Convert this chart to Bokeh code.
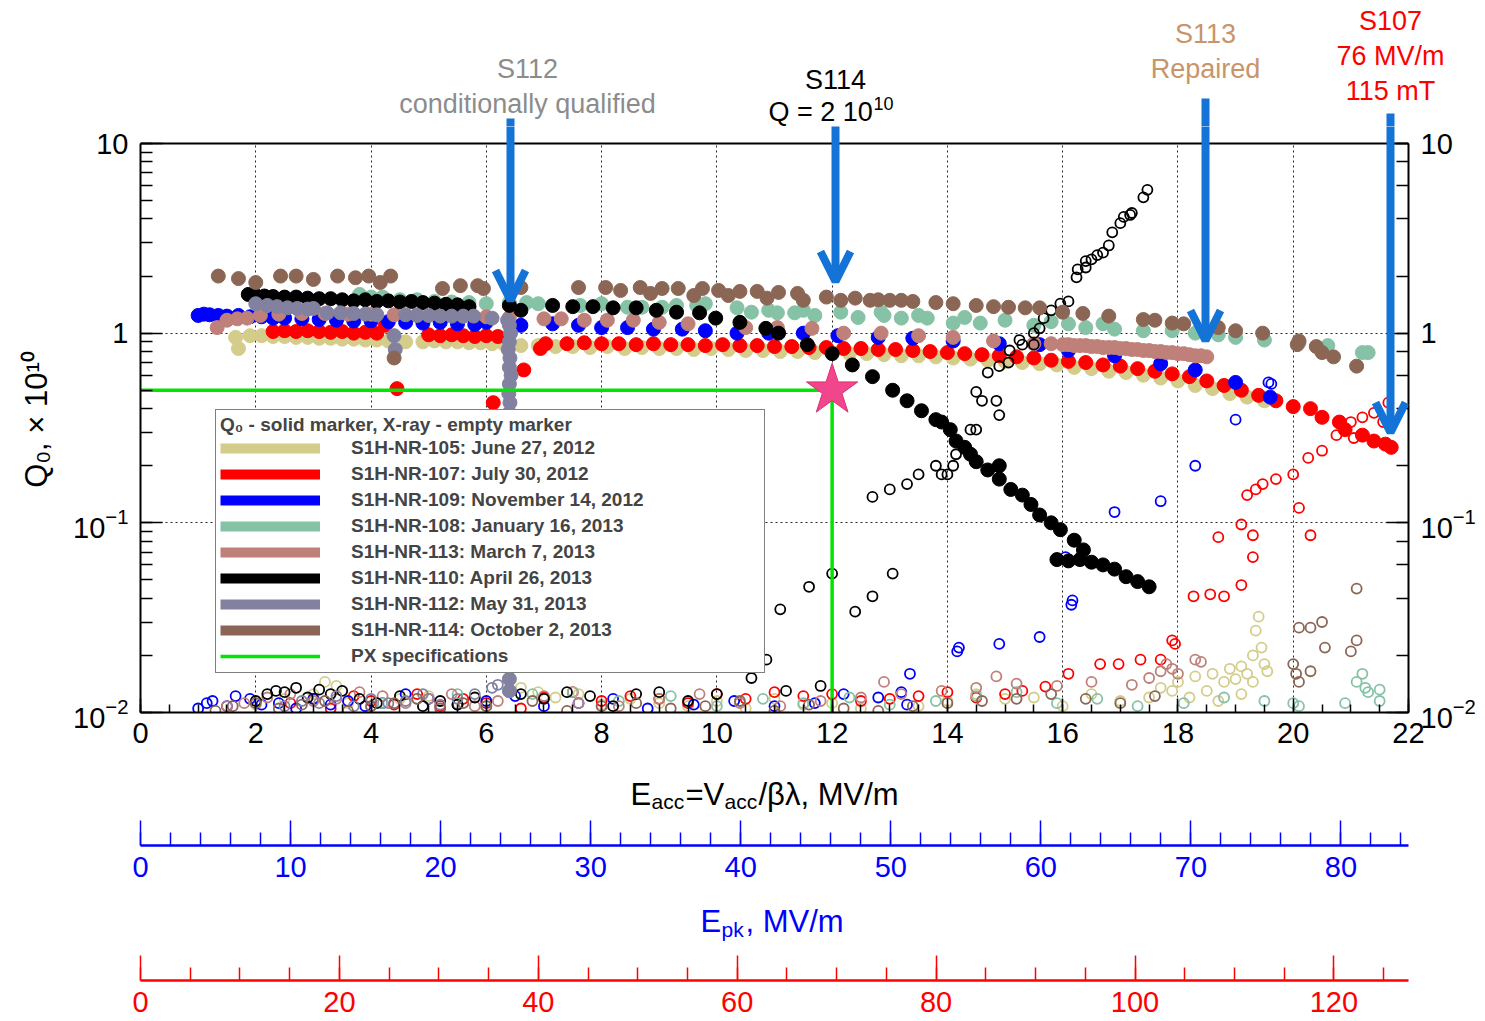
from bokeh.plotting import figure
from bokeh.models import (Range1d, LogAxis, SingleIntervalTicker, Label, Legend, LegendItem,
                          Arrow, OpenHead, LogTickFormatter, Span)
from bokeh.layouts import column
from bokeh.embed import file_html
from bokeh.resources import INLINE

FONT = "Liberation Sans"

# ---------------- data ----------------
# S1H-NR-105 (June 27, 2012)
q105_x = [1.65, 1.7, 1.9, 2.1, 2.3, 2.5, 2.7, 2.9, 3.1, 3.3, 3.5, 3.7, 3.9, 4.1, 4.3, 4.6, 4.9, 5.1, 5.3, 5.5,
          5.7, 5.9, 6.1, 6.3, 6.6, 6.9, 7.2, 7.5, 7.8, 8.1, 8.4, 8.7, 9.0, 9.3, 9.6, 9.9, 10.2, 10.5, 10.8,
          11.1, 11.4, 11.7, 12.0, 12.3, 12.6, 12.9, 13.2, 13.5, 13.8, 14.1, 14.4, 14.7, 15.0, 15.3, 15.6,
          15.9, 16.2, 16.5, 16.8, 17.1, 17.4, 17.7, 18.0, 18.3, 18.6, 18.9, 19.2, 19.5]
q105_y = [0.95, 0.83, 0.97, 0.97, 0.96, 0.96, 0.95, 0.95, 0.94, 0.94, 0.93, 0.93, 0.92, 0.92, 0.91, 0.9, 0.9,
          0.91, 0.9, 0.9, 0.89, 0.89, 0.88, 0.88, 0.86, 0.86, 0.85, 0.85, 0.84, 0.85, 0.83, 0.84, 0.83, 0.83,
          0.82, 0.83, 0.82, 0.81, 0.81, 0.8, 0.8, 0.79, 0.79, 0.78, 0.78, 0.77, 0.76, 0.76, 0.75, 0.74, 0.73,
          0.72, 0.71, 0.7, 0.69, 0.68, 0.66, 0.65, 0.63, 0.62, 0.6, 0.58, 0.56, 0.53, 0.51, 0.48, 0.46, 0.44]
xr105_x = [2.0, 2.5, 3.0, 3.2, 3.4, 3.6, 4.0, 4.5, 5.0, 5.5, 6.0, 6.6, 6.9, 7.2, 7.6, 8.0, 8.5, 9.0, 9.5,
           10.0, 10.5, 11.0, 11.5, 12.0, 12.5, 13.0, 13.5, 14.0, 14.5, 15.0, 15.5, 16.0, 16.5, 17.0,
           17.5, 17.7, 17.9, 18.0, 18.2, 18.3, 18.5, 18.6, 18.8, 18.9, 19.0, 19.1, 19.2, 19.3, 19.35,
           19.4, 19.45, 19.5, 19.55, 18.7, 19.1, 19.3]
xr105_y = [0.011, 0.0118, 0.0125, 0.0145, 0.0138, 0.0112, 0.0108, 0.0118, 0.0122, 0.0112, 0.0108, 0.0135,
           0.0128, 0.012, 0.0125, 0.011, 0.0118, 0.0112, 0.0108, 0.0115, 0.0105, 0.0118, 0.011, 0.0112,
           0.0105, 0.0118, 0.0108, 0.0115, 0.0125, 0.0118, 0.012, 0.0108, 0.0125, 0.0115,
           0.012, 0.0135, 0.013, 0.0145, 0.012, 0.0155, 0.013, 0.016, 0.0145, 0.017, 0.015, 0.0175, 0.016,
           0.02, 0.027, 0.032, 0.022, 0.018, 0.0165, 0.0115, 0.0125, 0.0145]

# S1H-NR-107 (July 30, 2012)
q107_x = [2.3, 2.5, 2.7, 2.9, 3.1, 3.3, 3.5, 3.7, 3.9, 4.1, 4.25, 4.45, 5.0, 5.2, 5.4, 5.6, 5.8, 6.0, 6.2,
          6.12, 6.65, 6.94, 7.03, 7.4, 7.7, 8.0, 8.3, 8.6, 8.9, 9.2, 9.5, 9.8, 10.1, 10.4, 10.7, 11.0, 11.3,
          11.6, 11.9, 12.2, 12.5, 12.8, 13.1, 13.4, 13.7, 14.0, 14.3, 14.6, 14.9, 15.2, 15.5, 15.8, 16.1,
          16.4, 16.7, 17.0, 17.3, 17.6, 17.9, 18.2, 18.5, 18.8, 19.1, 19.4, 19.7, 20.0, 20.3, 20.5, 20.8,
          20.9, 21.2, 21.4, 21.6, 21.7]
q107_y = [1.02, 1.03, 1.02, 1.03, 1.02, 1.01, 1.02, 1.0, 1.01, 1.0, 1.1, 0.51, 0.98, 0.97, 0.98, 0.97, 0.96,
          0.97, 0.96, 0.43, 0.64, 0.83, 0.88, 0.88, 0.89, 0.88, 0.88, 0.87, 0.88, 0.87, 0.87, 0.86, 0.87,
          0.86, 0.86, 0.85, 0.85, 0.84, 0.84, 0.83, 0.83, 0.82, 0.82, 0.81, 0.8, 0.79, 0.78, 0.77, 0.76,
          0.75, 0.74, 0.72, 0.71, 0.7, 0.68, 0.67, 0.65, 0.63, 0.61, 0.59, 0.56, 0.53, 0.5, 0.47, 0.44, 0.41,
          0.4, 0.36, 0.34, 0.31, 0.29, 0.27, 0.26, 0.25]
xr107_x = [2.6, 3.0, 3.3, 3.7, 4.0, 4.4, 4.8, 5.2, 5.6, 6.0, 6.6, 7.0, 7.5, 8.0, 8.5, 9.0, 9.5, 10.0, 10.5,
           11.0, 11.5, 12.0, 12.5, 13.0, 13.5, 14.0, 14.5, 15.0, 15.3,
           15.7, 16.1, 16.65, 16.97, 17.35, 17.7, 17.9, 17.95, 18.27, 18.56, 18.8, 19.1, 18.7, 19.1, 19.3,
           19.3, 19.2, 19.35, 19.47, 19.7, 20.0, 20.1, 20.3, 20.26, 20.5, 20.75, 21.0, 21.05, 21.2, 21.4,
           21.56, 21.65]
xr107_y = [0.0112, 0.0118, 0.0105, 0.0122, 0.0115, 0.011, 0.0125, 0.0108, 0.0118, 0.0112, 0.0105, 0.012,
           0.0128, 0.0115, 0.0122, 0.0118, 0.0112, 0.0125, 0.0118, 0.0128, 0.0122, 0.0125, 0.0115, 0.0118,
           0.0122, 0.0128, 0.012, 0.0125, 0.013,
           0.0137, 0.016, 0.018, 0.018, 0.019, 0.019, 0.024, 0.023, 0.041, 0.042, 0.041, 0.047, 0.084, 0.098,
           0.066, 0.086, 0.14, 0.15, 0.16, 0.17, 0.18, 0.12, 0.086, 0.22, 0.24, 0.29, 0.34, 0.28, 0.36, 0.38,
           0.34, 0.43]

# S1H-NR-109 (November 14, 2012)
q109_x = [1.0, 1.1, 1.2, 1.35, 1.5, 1.7, 1.9, 2.1, 2.3, 2.5, 2.8, 3.1, 3.4, 3.7, 4.0, 4.3, 4.6, 4.9, 5.2,
          5.5, 5.8, 6.0, 6.6, 7.15, 7.6, 8.0, 8.45, 8.9, 9.4, 9.8, 10.35, 10.9, 11.5, 12.1, 12.8, 13.4, 14.1,
          14.9, 15.6, 16.1, 16.9, 17.7, 18.3, 19.0, 19.6]
q109_y = [1.24, 1.26, 1.25, 1.24, 1.23, 1.24, 1.22, 1.22, 1.2, 1.2, 1.19, 1.18, 1.17, 1.16, 1.16, 1.15, 1.14,
          1.13, 1.14, 1.12, 1.11, 1.14, 1.1, 1.12, 1.1, 1.07, 1.07, 1.05, 1.05, 1.03, 1.0, 1.0, 1.0, 0.97,
          0.95, 0.94, 0.91, 0.88, 0.87, 0.81, 0.76, 0.69, 0.64, 0.55, 0.46]
xr109_x = [1.0, 1.15, 1.25, 1.5, 1.65, 1.9, 2.1, 2.4, 2.7, 3.0, 3.3, 3.6, 3.9, 4.2, 4.6, 5.0, 5.5, 6.0, 6.5,
           7.0, 7.6, 8.2, 8.8, 9.6, 10.3, 11.0, 11.7, 12.2, 12.8, 13.2, 13.3,
           13.35, 14.17, 14.2, 14.9, 15.6, 16.15, 16.17, 16.05, 16.9, 17.7, 18.3, 19.0, 19.57, 19.62]
xr109_y = [0.0105, 0.0112, 0.0115, 0.0108, 0.0122, 0.0118, 0.011, 0.0112, 0.0105, 0.0118, 0.011, 0.0115,
           0.0108, 0.0112, 0.0125, 0.0118, 0.011, 0.0115, 0.0122, 0.0108, 0.0112, 0.0118, 0.0105, 0.011,
           0.0115, 0.0108, 0.0112, 0.0125, 0.012, 0.0128, 0.011,
           0.016, 0.021, 0.022, 0.023, 0.025, 0.037, 0.039, 0.066, 0.114, 0.13, 0.2, 0.35, 0.55, 0.54]

# S1H-NR-108 (January 16, 2013)
q108_x = [3.8, 4.0, 4.2, 4.5, 4.8, 5.1, 5.4, 5.7, 6.0, 6.4, 6.7, 6.9, 7.63, 8.0, 8.45, 8.7, 9.05, 9.3, 9.65,
          9.8, 10.35, 10.6, 10.9, 11.05, 11.35, 11.5, 11.7, 12.15, 12.45, 12.85, 12.9, 13.2, 13.5, 13.65,
          14.1, 14.3, 14.57, 15.0, 15.5, 15.8, 16.1, 16.4, 16.7, 16.9, 17.4, 17.9, 18.3, 18.7, 19.0, 19.5,
          20.1, 20.6, 21.2, 21.3]
q108_y = [1.6, 1.55, 1.55, 1.5, 1.5, 1.47, 1.46, 1.45, 1.43, 1.45, 1.45, 1.43, 1.4, 1.43, 1.37, 1.37, 1.37,
          1.4, 1.4, 1.43, 1.36, 1.29, 1.32, 1.28, 1.28, 1.32, 1.24, 1.29, 1.21, 1.29, 1.24, 1.2, 1.24, 1.2,
          1.13, 1.21, 1.13, 1.17, 1.1, 1.15, 1.12, 1.07, 1.12, 1.05, 1.03, 1.03, 1.0, 0.98, 0.95, 0.92, 0.89,
          0.86, 0.79, 0.79]
xr108_x = [4.2, 4.8, 5.5, 6.0, 6.8, 7.5, 8.3, 9.2, 10.0, 10.8, 11.5, 12.3, 13.0, 13.8, 14.5, 15.2, 15.9, 16.6,
           17.3, 18.1, 18.8, 19.5, 20.1, 20.9, 21.3, 21.5, 21.2, 21.25, 21.1, 21.5, 20.0]
xr108_y = [0.0112, 0.0118, 0.0125, 0.0108, 0.0125, 0.0128, 0.0115, 0.0122, 0.0108, 0.0118, 0.0112, 0.012,
           0.011, 0.0115, 0.0122, 0.0128, 0.0112, 0.0118, 0.0108, 0.0112, 0.012, 0.0115, 0.0108, 0.0112,
           0.0128, 0.0115, 0.016, 0.0135, 0.0145, 0.0132, 0.0112]

# S1H-NR-113 (March 7, 2013)
q113_x = [1.33, 1.5, 1.68, 1.85, 2.08, 2.4, 2.8, 3.2, 3.6, 4.0, 4.4, 4.8, 5.2, 5.6, 6.0, 6.4, 7.0, 7.3, 7.7,
          8.1, 8.55, 9.0, 9.5, 10.5, 11.05, 11.65, 12.2, 12.85, 13.5, 14.1, 14.8, 15.5, 15.8,
          16.0, 16.1, 16.2, 16.3, 16.4, 16.5, 16.6, 16.7, 16.8, 16.9, 17.0, 17.1, 17.2, 17.3, 17.4, 17.5,
          17.6, 17.7, 17.8, 17.9, 18.0, 18.1, 18.2, 18.3, 18.4, 18.5]
q113_y = [1.07, 1.17, 1.19, 1.2, 1.24, 1.26, 1.27, 1.27, 1.26, 1.26, 1.25, 1.25, 1.24, 1.23, 1.22, 1.21, 1.19,
          1.19, 1.17, 1.17, 1.17, 1.14, 1.12, 1.07, 1.07, 1.06, 1.0, 1.0, 0.97, 0.95, 0.91, 0.88, 0.88,
          0.87, 0.87, 0.86, 0.86, 0.86, 0.85, 0.85, 0.84, 0.84, 0.84, 0.83, 0.83, 0.82, 0.82, 0.81, 0.81,
          0.8, 0.8, 0.79, 0.79, 0.78, 0.78, 0.77, 0.76, 0.76, 0.75]
xr113_x = [1.5, 1.8, 2.2, 2.6, 3.0, 3.4, 3.8, 4.2, 4.6, 5.0, 5.4, 5.8, 6.2, 7.0, 7.6, 8.3, 9.0, 9.7, 10.4,
           11.1, 11.8, 12.5, 13.2, 13.9, 14.5, 15.2, 15.9, 16.5, 17.2, 14.85, 17.7, 17.8, 17.9, 18.0, 18.3,
           18.4, 12.9, 17.5]
xr113_y = [0.0108, 0.0112, 0.012, 0.0125, 0.0115, 0.0118, 0.0128, 0.0122, 0.0112, 0.0118, 0.0125, 0.0108,
           0.0115, 0.0122, 0.0112, 0.0108, 0.0118, 0.0125, 0.0112, 0.0108, 0.0115, 0.012, 0.0125, 0.013,
           0.0135, 0.0142, 0.0138, 0.0145, 0.014, 0.0155, 0.0165, 0.018, 0.017, 0.016, 0.019, 0.0185,
           0.0145, 0.0152]

# S1H-NR-110 (April 26, 2013)
q110_x = [1.87, 2.0, 2.15, 2.3, 2.5, 2.7, 2.9, 3.1, 3.3, 3.5, 3.7, 3.9, 4.1, 4.3, 4.5, 4.7, 4.9, 5.1, 5.3,
          5.5, 5.7, 6.4, 6.6, 7.15, 7.5, 7.85, 8.2, 8.6, 8.95, 9.3, 9.7, 9.98, 10.4, 10.85, 11.07, 11.57,
          12.0, 12.35, 12.7, 13.05, 13.3, 13.55, 13.8, 13.9, 14.05, 14.15, 14.3, 14.4, 14.5, 14.7, 14.9,
          14.9, 15.1, 15.3, 15.45, 15.6, 15.8, 15.96, 16.2, 16.36, 15.9, 16.1, 16.3, 16.5, 16.7, 16.9,
          17.1, 17.3, 17.5]
q110_y = [1.6, 1.58, 1.57, 1.56, 1.55, 1.55, 1.53, 1.52, 1.52, 1.5, 1.48, 1.5, 1.47, 1.48, 1.46, 1.47, 1.45,
          1.44, 1.42, 1.41, 1.38, 1.4, 1.32, 1.4, 1.38, 1.38, 1.36, 1.36, 1.32, 1.29, 1.28, 1.2, 1.14, 1.06,
          1.0, 0.87, 0.78, 0.68, 0.59, 0.5, 0.44, 0.39, 0.35, 0.34, 0.31, 0.27, 0.25, 0.23, 0.21, 0.19, 0.2,
          0.17, 0.15, 0.14, 0.125, 0.11, 0.1, 0.092, 0.081, 0.072, 0.064, 0.063, 0.064, 0.062, 0.06, 0.057,
          0.052, 0.049, 0.046]
xr110_x = [2.0, 2.2, 2.35, 2.5, 2.7, 2.9, 3.1, 3.3, 3.5, 3.8, 4.1, 4.5, 4.9, 5.2, 5.5, 5.8, 6.6, 7.0, 7.4,
           7.8, 8.2, 8.6, 9.0, 9.5, 10.0, 10.6, 11.2, 11.8,
           10.86, 11.1, 11.6, 12.0, 12.4, 12.7, 13.05, 12.7, 13.0, 13.3, 13.5, 13.8, 13.9, 14.0, 14.1,
           14.15, 14.4, 14.5, 14.5, 14.6, 14.85, 14.9, 14.7, 14.9, 15.06, 15.08, 15.25, 15.3, 15.5, 15.5,
           15.6, 15.67, 15.8, 15.96, 16.1, 16.24, 16.26, 16.4, 16.4, 16.5, 16.6, 16.7, 16.8, 16.86, 17.0,
           17.06, 17.17, 17.2, 17.4, 17.47]
xr110_y = [0.0115, 0.0125, 0.013, 0.0128, 0.0135, 0.012, 0.0132, 0.0125, 0.013, 0.0118, 0.0112, 0.0122,
           0.0108, 0.0115, 0.011, 0.012, 0.0125, 0.0118, 0.0128, 0.0122, 0.0108, 0.0125, 0.0128, 0.0115,
           0.0125, 0.0152, 0.013, 0.0138,
           0.019, 0.035, 0.046, 0.054, 0.034, 0.041, 0.054, 0.137, 0.15, 0.16, 0.18, 0.2, 0.18, 0.18, 0.2,
           0.23, 0.31, 0.31, 0.49, 0.44, 0.44, 0.37, 0.62, 0.67, 0.7, 0.81, 0.92, 0.87, 0.87, 1.0, 1.06, 1.2,
           1.32, 1.43, 1.47, 1.97, 2.17, 2.22, 2.4, 2.45, 2.58, 2.66, 2.9, 3.4, 3.8, 4.1, 4.2, 4.3, 5.2, 5.7]

# S1H-NR-112 (May 31, 2013)
q112_x = [2.0, 2.2, 2.37, 2.55, 2.72, 2.9, 3.0, 3.24, 3.47, 3.7, 3.9, 4.1, 4.4, 4.42, 4.6, 4.8, 5.0, 5.2,
          5.4, 5.6, 5.78, 6.1, 6.37,
          6.4, 6.42, 6.4, 6.38, 6.41, 6.4, 6.43, 6.4, 6.39, 6.41, 6.4, 6.42, 6.4, 6.38, 6.4, 6.41, 6.4,
          6.42, 6.4, 6.39, 6.4, 6.41, 6.4, 6.42, 6.4, 6.38, 6.4, 6.41, 6.4, 6.42, 6.4, 6.4]
q112_y = [1.43, 1.4, 1.38, 1.36, 1.35, 1.34, 1.35, 1.28, 1.28, 1.27, 1.26, 1.25, 0.97, 0.82, 1.25, 1.24,
          1.24, 1.23, 1.23, 1.23, 1.23, 1.2, 1.17,
          1.1, 1.0, 0.9, 0.82, 0.74, 0.66, 0.6, 0.54, 0.48, 0.43, 0.38, 0.34, 0.3, 0.26, 0.22, 0.19, 0.16,
          0.14, 0.12, 0.1, 0.085, 0.072, 0.06, 0.05, 0.042, 0.035, 0.03, 0.025, 0.021, 0.018, 0.015, 0.013,
          0.0115, 0.0105]
xr112_x = [2.5, 2.8, 3.1, 3.4, 3.7, 4.0, 4.3, 4.6, 4.9, 5.2, 5.5, 5.8, 6.1, 6.2]
xr112_y = [0.0108, 0.0115, 0.0112, 0.0122, 0.0108, 0.0118, 0.0112, 0.0115, 0.0125, 0.011, 0.0118, 0.0125,
           0.0135, 0.014]

# S1H-NR-114 (October 2, 2013)
q114_x = [1.35, 1.7, 2.0, 2.43, 2.7, 3.0, 3.42, 3.73, 3.96, 4.16, 4.34, 4.4, 5.24, 5.55, 5.85, 5.95, 6.6,
          7.6, 8.07, 8.33, 8.67, 8.85, 9.05, 9.33, 9.6, 9.75, 10.03, 10.2, 10.4, 10.7, 10.87, 11.07, 11.4,
          11.5, 11.9, 12.15, 12.4, 12.66, 12.8, 13.0, 13.2, 13.4, 13.8, 14.1, 14.5, 14.8, 15.06, 15.35,
          15.6, 16.0, 16.35, 16.8, 17.4, 17.6, 17.9, 18.1, 18.7, 19.0, 19.47, 20.07, 20.1, 20.4, 20.5,
          20.7, 21.1]
q114_y = [2.0, 1.94, 1.85, 2.0, 2.0, 1.92, 2.0, 1.96, 2.0, 1.85, 2.0, 0.74, 1.72, 1.78, 1.78, 1.72, 1.74,
          1.74, 1.74, 1.68, 1.74, 1.62, 1.72, 1.72, 1.58, 1.72, 1.68, 1.58, 1.66, 1.66, 1.53, 1.64, 1.62,
          1.49, 1.55, 1.49, 1.53, 1.49, 1.5, 1.49, 1.49, 1.47, 1.45, 1.43, 1.4, 1.38, 1.37, 1.36, 1.36, 1.29,
          1.27, 1.23, 1.18, 1.17, 1.13, 1.12, 1.07, 1.03, 1.0, 0.87, 0.91, 0.85, 0.79, 0.75, 0.67]
xr114_x = [1.3, 1.6, 2.0, 2.4, 2.8, 3.2, 3.6, 4.0, 4.4, 4.8, 5.2, 5.6, 6.0, 6.8, 7.4, 8.0, 8.6, 9.2, 9.8,
           10.4, 11.0, 11.6, 12.2, 12.8, 13.4, 14.0, 14.6, 15.2, 15.8, 16.4, 17.0, 17.6,
           20.1, 20.3, 20.5, 20.55, 21.1, 21.1, 20.0, 20.05, 20.1, 20.3, 21.0]
xr114_y = [0.0102, 0.0108, 0.0112, 0.0105, 0.011, 0.0115, 0.0102, 0.0108, 0.0112, 0.0118, 0.0105, 0.0112,
           0.0108, 0.0115, 0.0102, 0.0108, 0.0112, 0.0105, 0.0108, 0.0115, 0.0102, 0.011, 0.0105, 0.0102,
           0.0108, 0.0112, 0.0115, 0.0118, 0.0125, 0.0118, 0.0112, 0.0122,
           0.028, 0.028, 0.03, 0.022, 0.024, 0.045, 0.018, 0.016, 0.0145, 0.0165, 0.021]

# PX specification: Q0 = 0.5e10 at Eacc = 12 MV/m
spec_x = [0.0, 12.0, 12.0]
spec_y = [0.5, 0.5, 0.01]

series = [
    ("S1H-NR-105: June 27, 2012", "#d4cc8a", q105_x, q105_y, xr105_x, xr105_y),
    ("S1H-NR-107: July 30, 2012", "#ff0000", q107_x, q107_y, xr107_x, xr107_y),
    ("S1H-NR-109: November 14, 2012", "#0000ff", q109_x, q109_y, xr109_x, xr109_y),
    ("S1H-NR-108: January 16, 2013", "#86c2a5", q108_x, q108_y, xr108_x, xr108_y),
    ("S1H-NR-113: March 7, 2013", "#c0807a", q113_x, q113_y, xr113_x, xr113_y),
    ("S1H-NR-110: April 26, 2013", "#000000", q110_x, q110_y, xr110_x, xr110_y),
    ("S1H-NR-112: May 31, 2013", "#8282a0", q112_x, q112_y, xr112_x, xr112_y),
    ("S1H-NR-114: October 2, 2013", "#8b6655", q114_x, q114_y, xr114_x, xr114_y),
]

EPK_MAX = 84.5   # Epk at Eacc = 22 MV/m
BPK_MAX = 127.5  # Bpk at Eacc = 22 MV/m

# ---------------- page geometry ----------------
W = 1485
FL, FR, FT, FB = 140, 1408, 143, 712   # plot box (Q0 1e-2..10, Eacc 0..22) in page pixels
T_H = 126                               # top text strip 0..126 ; main frame starts at 126
M_BOT = 45                              # main figure 126..757
X_TOP, X_BOT = 757, 812                 # x-title strip
B_FR, B_BOT = 33, 45                    # Epk axis figure 812..890
E_TOP, E_BOT = 890, 945                 # Epk title strip
R_FR, R_BOT = 35, 41                    # Bpk axis figure 945..1021


def dx(px):
    return (px - FL) / (FR - FL) * 22.0


def dy(py):
    return 10 ** (1 - 3.0 * (py - FT) / (FB - FT))


def no_align(f):
    try:
        f.frame_align = False
    except Exception:
        pass


def lab(fig, x, y, text, size, color="black", align="left", baseline="middle"):
    fig.add_layout(Label(x=x, y=y, text=text, text_font=FONT, text_font_size=f"{size}px",
                         text_color=color, text_align=align, text_baseline=baseline))


def strip(top, bottom):
    f = figure(width=W, height=bottom - top, x_range=Range1d(dx(0), dx(W)),
               y_range=Range1d(-bottom, -top), output_backend="svg", toolbar_location=None,
               x_axis_location=None, y_axis_location=None, min_border=0)
    f.min_border_left = f.min_border_right = f.min_border_top = f.min_border_bottom = 0
    no_align(f)
    f.outline_line_color = None
    f.xgrid.visible = False
    f.ygrid.visible = False
    f.background_fill_color = "white"
    f.border_fill_color = "white"
    return f


ARC = "#1473d7"
arrows = [(510, 118, 300), (835, 170, 281), (1205, 98, 340), (1390, 113, 432)]

# ---------------- top strip: annotations ----------------
top = strip(0, T_H)
for ax_, y0, y1 in arrows:
    if y0 < T_H:
        top.add_layout(Arrow(end=None, x_start=dx(ax_), y_start=-y0, x_end=dx(ax_), y_end=-(T_H + 20),
                             line_color=ARC, line_width=8))
lab(top, dx(527), -68, "S112", 27, "#8c8c8c", "center")
lab(top, dx(527), -103, "conditionally qualified", 27, "#8c8c8c", "center")
lab(top, dx(835), -79, "S114", 27, "black", "center")
lab(top, dx(768), -111, "Q = 2 10", 27, "black", "left")
lab(top, dx(873), -103, "10", 18, "black", "left")
lab(top, dx(1205), -33, "S113", 27, "#c8946a", "center")
lab(top, dx(1205), -68, "Repaired", 27, "#c8946a", "center")
lab(top, dx(1390), -20, "S107", 27, "#ff0000", "center")
lab(top, dx(1390), -55, "76 MV/m", 27, "#ff0000", "center")
lab(top, dx(1390), -90, "115 mT", 27, "#ff0000", "center")

# ---------------- main figure ----------------
p = figure(width=W, height=(FB - T_H) + M_BOT, x_range=Range1d(0, 22), y_range=Range1d(0.01, dy(T_H)),
           y_axis_type="log", output_backend="svg", toolbar_location=None,
           min_border_left=FL, min_border_right=W - FR, min_border_top=0, min_border_bottom=M_BOT)
no_align(p)
p.outline_line_color = None
p.background_fill_color = "white"
p.border_fill_color = "white"

xt = SingleIntervalTicker(interval=2, num_minor_ticks=4)
xa = p.xaxis[0]
xa.ticker = xt
p.xgrid.ticker = xt
xa.major_tick_in = 14
xa.major_tick_out = 0
xa.minor_tick_in = 8
xa.minor_tick_out = 0
xa.axis_line_width = 2
xa.major_tick_line_width = 1.5
xa.minor_tick_line_width = 1.5
xa.major_label_text_font = FONT
xa.major_label_text_font_size = "29px"
xa.major_label_text_color = "black"
xa.major_label_standoff = 10

yl = p.yaxis[0]
yr = LogAxis()
p.add_layout(yr, "right")
for a in (yl, yr):
    a.bounds = (0.01, 10)
    a.major_tick_in = 22
    a.major_tick_out = 0
    a.minor_tick_in = 12
    a.minor_tick_out = 0
    a.axis_line_width = 2
    a.major_tick_line_width = 1.5
    a.minor_tick_line_width = 1.5
    a.formatter = LogTickFormatter()
    a.major_label_overrides = {1: "1", 10: "10"}
    a.major_label_text_font = FONT
    a.major_label_text_font_size = "29px"
    a.major_label_text_color = "black"
    a.major_label_standoff = 12
yl.axis_label = "Q\u2080, \u00d7 10\u00b9\u2070"
yl.axis_label_text_font = FONT
yl.axis_label_text_font_size = "31px"
yl.axis_label_text_font_style = "normal"
yl.axis_label_text_color = "black"
yl.axis_label_standoff = 16

for g in (p.xgrid, p.ygrid):
    g.grid_line_color = "black"
    g.grid_line_dash = "2 3"
    g.grid_line_width = 1
    g.grid_line_alpha = 0.85
try:
    p.xgrid.cross_bounds = (0.01, 10)
except Exception:
    pass
p.ygrid.bounds = (0.01, 10)

items = []
for label, c, qx, qy, rx, ry in series:
    p.scatter(qx, qy, size=14, fill_color=c, line_color=c, line_width=1)
    p.scatter(rx, ry, size=10, fill_color=None, line_color=c, line_width=1.8)
    sw = p.line(qx, qy, line_width=10, line_color=c, visible=False)
    items.append(LegendItem(label=label, renderers=[sw]))

spec = p.line(spec_x, spec_y, line_color="#00e600", line_width=3.5)
items.append(LegendItem(label="PX specifications", renderers=[spec]))
p.scatter([spec_x[1]], [spec_y[1]], marker="star", size=54, fill_color="#f2468c",
          line_color="#d83274", line_width=1)

leg = Legend(items=items, location=(75, 39), title="Q\u2080 - solid marker, X-ray - empty marker")
leg.title_text_font = FONT
leg.title_text_font_style = "bold"
leg.title_text_font_size = "19px"
leg.title_standoff = 0
leg.label_text_font = FONT
leg.label_text_font_style = "bold"
leg.label_text_font_size = "19px"
leg.padding = 4
leg.spacing = 2
leg.glyph_width = 100
leg.glyph_height = 24
leg.label_height = 24
leg.label_standoff = 31
leg.label_width = 409
leg.margin = 0
leg.click_policy = "none"
leg.border_line_color = "black"
leg.border_line_width = 1.5
leg.background_fill_color = "white"
leg.background_fill_alpha = 1.0
p.add_layout(leg)

# top edge of the plot box
p.add_layout(Span(location=10, dimension="width", line_color="black", line_width=2))

for ax_, y0, y1 in arrows:
    p.add_layout(Arrow(end=OpenHead(size=30, line_color=ARC, line_width=8),
                       x_start=dx(ax_), y_start=dy(min(y0, T_H - 20)), x_end=dx(ax_), y_end=dy(y1),
                       line_color=ARC, line_width=8))

# ---------------- x-axis title strip ----------------
xs = strip(X_TOP, X_BOT)
lab(xs, dx(630), -794, "E", 31, baseline="alphabetic")
lab(xs, dx(651), -801, "acc", 21, baseline="alphabetic")
lab(xs, dx(685), -794, "=V", 31, baseline="alphabetic")
lab(xs, dx(724), -801, "acc", 21, baseline="alphabetic")
lab(xs, dx(758), -794, "/\u03b2\u03bb, MV/m", 31, baseline="alphabetic")


# ---------------- secondary axes: Epk and Bpk ----------------
def axis_fig(frame_h, bottom, xmax, interval, nminor, color):
    f = figure(width=W, height=frame_h + bottom, x_range=Range1d(0, xmax), y_range=Range1d(0, 1),
               output_backend="svg", toolbar_location=None, y_axis_location=None,
               min_border_left=FL, min_border_right=W - FR, min_border_top=0, min_border_bottom=bottom)
    no_align(f)
    f.outline_line_color = None
    f.xgrid.visible = False
    f.ygrid.visible = False
    f.background_fill_color = "white"
    f.border_fill_color = "white"
    a = f.xaxis[0]
    a.ticker = SingleIntervalTicker(interval=interval, num_minor_ticks=nminor)
    a.axis_line_color = color
    a.axis_line_width = 2.5
    a.major_tick_line_color = color
    a.minor_tick_line_color = color
    a.major_tick_line_width = 1.5
    a.minor_tick_line_width = 1.5
    a.major_tick_in = 25
    a.major_tick_out = 0
    a.minor_tick_in = 13
    a.minor_tick_out = 0
    a.major_label_text_color = color
    a.major_label_text_font = FONT
    a.major_label_text_font_size = "29px"
    a.major_label_standoff = 11
    return f


pb = axis_fig(B_FR, B_BOT, EPK_MAX, 10, 5, "#0000ff")
es = strip(E_TOP, E_BOT)
lab(es, dx(700), -921, "E", 31, "#0000ff", baseline="alphabetic")
lab(es, dx(721), -929, "pk", 21, "#0000ff", baseline="alphabetic")
lab(es, dx(745), -921, ", MV/m", 31, "#0000ff", baseline="alphabetic")
pr = axis_fig(R_FR, R_BOT, BPK_MAX, 20, 4, "#ff0000")

layout = column(top, p, xs, pb, es, pr)
open("out.html", "w").write(file_html(layout, INLINE))
